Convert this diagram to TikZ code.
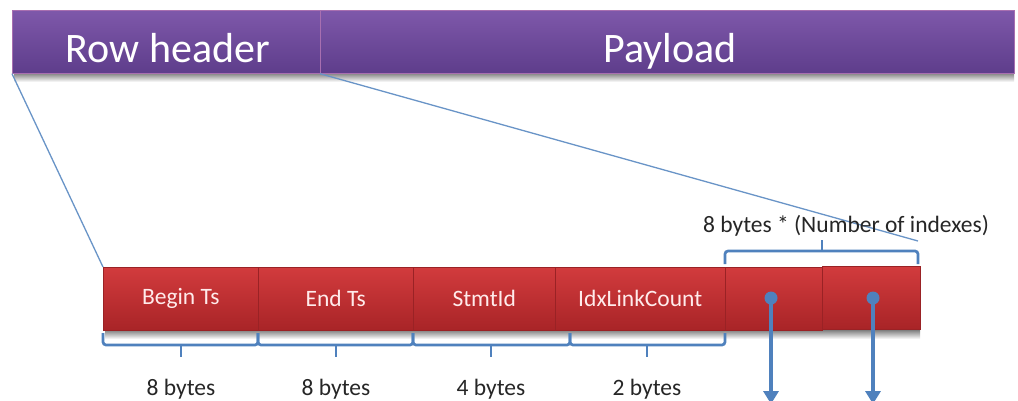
\documentclass[tikz,border=0pt]{standalone}
\usepackage{fontspec}
\setmainfont{Carlito}
\usetikzlibrary{arrows.meta}
\definecolor{purpT}{HTML}{7E58AA}
\definecolor{purpB}{HTML}{5E3D8B}
\definecolor{purpEdge}{HTML}{A86FB0}
\definecolor{redT}{HTML}{D23B3D}
\definecolor{redB}{HTML}{A82427}
\definecolor{redEdge}{HTML}{9A2225}
\definecolor{lineblue}{HTML}{4F81BD}
\tikzset{
  hdrbox/.style={draw=purpEdge, line width=0.7pt, top color=purpT, bottom color=purpB,
    inner sep=0pt, anchor=north west, minimum height=63pt},
  hdrtxt/.style={text=white, font=\fontsize{42}{42}\selectfont, inner sep=0pt, anchor=base},
  fld/.style={draw=redEdge, line width=0.5pt, top color=redT, bottom color=redB,
    text=white!92!red, font=\fontsize{23.5}{23.5}\selectfont, inner sep=0pt,
    anchor=north west, minimum height=63pt},
  lbl/.style={text=black!85, font=\fontsize{23.5}{23.5}\selectfont, inner sep=0pt, anchor=base},
  thin/.style={draw=lineblue!85!white, line width=1.3pt},
  brc/.style={draw=lineblue, line width=2.7pt, rounded corners=3pt},
  dot/.style={circle, fill=lineblue, inner sep=0pt, minimum size=13pt},
  arr/.style={draw=lineblue, line width=4pt, -{Triangle[width=15pt,length=13pt]}},
}
\begin{document}
\begin{tikzpicture}[x=1pt,y=1pt]
\clip (0,0) rectangle (1018,-400);
\fill[white] (0,0) rectangle (1018,-400);
% shadows
\shade[top color=black!50, bottom color=white] (14,-73) rectangle (1014,-82);
\shade[top color=black!50, bottom color=white] (105,-330) rectangle (920,-339);
% purple header bar
\node[hdrbox, minimum width=308pt] (rh) at (12,-10) {};
\node[hdrbox, minimum width=694pt] (pl) at (320,-10) {};
\node[hdrtxt] (rht) at (168,-62) {Row header};
\node[hdrtxt] (plt) at (670,-62) {Payload};
% red fields
\node[fld, minimum width=155pt] (b1) at (103,-267) {Begin Ts};
\node[fld, minimum width=155pt] (b2) at (258,-267) {End Ts};
\node[fld, minimum width=142pt] (b3) at (413,-267) {StmtId};
\node[fld, minimum width=170pt] (b4) at (555,-267) {IdxLinkCount};
\node[fld, minimum width=97pt]  (b5) at (725,-267) {};
\node[fld, minimum width=98pt]  (b6) at (822,-266) {};
% zoom lines
\coordinate (pe) at (918,-241);
\draw[thin] (rh.south west) -- (b1.north west);
\draw[thin] (pl.south west) -- (pe);
% braces below
\draw[brc] (103,-333) -- (103,-345) -- (258,-345) -- (258,-333);
\draw[brc] (181,-345) -- (181,-357);
\draw[brc] (258,-333) -- (258,-345) -- (413,-345) -- (413,-333);
\draw[brc] (336,-345) -- (336,-357);
\draw[brc] (413,-333) -- (413,-345) -- (570,-345) -- (570,-333);
\draw[brc] (491,-345) -- (491,-357);
\draw[brc] (570,-333) -- (570,-345) -- (725,-345) -- (725,-333);
\draw[brc] (647,-345) -- (647,-357);
% brace above
\draw[brc] (725,-264) -- (725,-251) -- (918,-251) -- (918,-264);
\draw[brc] (822,-251) -- (822,-240);
% labels
\node[lbl] (l1) at (181,-395) {8 bytes};
\node[lbl] (l2) at (336,-395) {8 bytes};
\node[lbl] (l3) at (491,-395) {4 bytes};
\node[lbl] (l4) at (647,-395) {2 bytes};
\node[lbl] (l5) at (846,-232) {8 bytes * (Number of indexes)};
% pointers
\node[dot] (d1) at (771,-298) {};
\node[dot] (d2) at (873,-298) {};
\coordinate (a1) at (771,-404);
\coordinate (a2) at (873,-404);
\draw[arr] (d1.center) -- (a1);
\draw[arr] (d2.center) -- (a2);
\end{tikzpicture}
\end{document}
